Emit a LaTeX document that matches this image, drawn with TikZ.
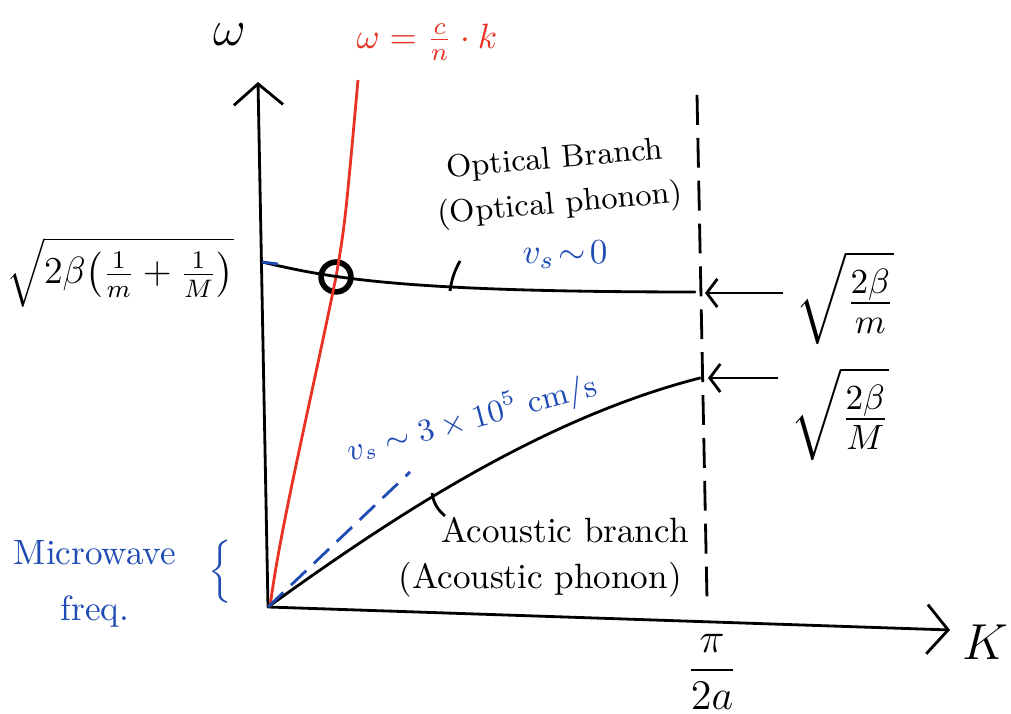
\documentclass[tikz,border=0pt]{standalone}
\usepackage{amsmath}
\definecolor{penred}{RGB}{232,50,35}
\definecolor{penblue}{RGB}{30,75,180}
\usetikzlibrary{arrows.meta}
\tikzset{
    axis/.style={->, thick, >={Straight Barb[length=6pt,width=14pt]}},
    branch/.style={thick, line cap=round},
    pointer/.style={<-, thick, >={Straight Barb[length=3pt,width=8pt]}},
}
\begin{document}
\begin{tikzpicture}
    \useasboundingbox (0, 0) rectangle (10.11, 7.14);

    \coordinate (O) at (2.68, 1.07);
    \coordinate (ytop) at (2.58, 6.32);
    \coordinate (xend) at (9.50, 0.84);
    \node (w) at (2.30, 6.79) {\Large $\omega$};
    \node (K) at (9.85, 0.72) {\Large $K$};

    \draw[axis] (O) -- (ytop);
    \draw[axis] (O) -- (xend);

    % light line
    \node[draw, circle, ultra thick, inner sep=3pt] (cross) at (3.36, 4.37) {};
    \coordinate (rtop) at (3.58, 6.34);
    \draw[penred, thick] (2.70, 1.07) .. controls (2.80, 1.85) and (3.08, 3.00) .. (cross.center)
        .. controls (3.45, 4.90) .. (rtop);
    \node[penred] (light) at (4.27, 6.72) {$\omega = \frac{c}{n}\cdot k$};

    % zone boundary
    \coordinate (zt) at (6.97, 6.19);
    \coordinate (zb) at (7.07, 1.14);
    \draw[thick, dash pattern=on 8.5pt off 3.7pt] (zt) -- (zb);
    \node (zone) at (7.12, 0.42) {\large $\dfrac{\pi}{2a}$};

    % optical branch
    \coordinate (o0) at (2.62, 4.52);
    \coordinate (o1) at (6.95, 4.22);
    \draw[branch] (o0) .. controls (3.30, 4.36) and (4.00, 4.22) .. (o1);
    \draw[penblue, thick] (o0) -- ++(0.16, -0.02);
    \node[rotate=5] (opt1) at (5.55, 5.54) {\small Optical Branch};
    \node[rotate=5] (opt2) at (5.60, 5.09) {\small (Optical phonon)};
    \node[penblue] (vs0) at (5.65, 4.59) {$v_s\!\sim\!0$};
    \coordinate (op) at (4.50, 4.23);
    \draw[thick] (op) to[bend left=10] ++(0.10, 0.30);

    % acoustic branch
    \coordinate (a1) at (7.00, 3.36);
    \draw[branch] (O) .. controls (3.90, 1.95) and (5.40, 2.95) .. (a1);
    \coordinate (vsend) at (4.10, 2.42);
    \draw[penblue, thick, dash pattern=on 6pt off 3pt] (O) -- (vsend);
    \node[penblue, rotate=15] (vs) at (4.72, 2.95) {\small $v_s\sim 3\times 10^5$ cm/s};
    \node (ac1) at (5.65, 1.84) {Acoustic branch};
    \node (ac2) at (5.40, 1.34) {(Acoustic phonon)};
    \coordinate (ap) at (4.32, 2.21);
    \draw[thick] (ap) to[bend right=20] ++(0.13, -0.23);

    % left labels
    \node[scale=0.9] (wmax) at (1.20, 4.42) {\large $\sqrt{2\beta\bigl(\frac{1}{m}+\frac{1}{M}\bigr)}$};
    \node[penblue, align=center] (micro) at (0.95, 1.30) {Microwave\\[4pt] freq.};
    \node[penblue] (brace) at (2.22, 1.42) {$\left\{\rule{0pt}{0.38cm}\right.$};

    % right labels
    \node (wopt) at (8.45, 4.16) {\Large $\sqrt{\frac{2\beta}{m}}$};
    \node (wac) at (8.40, 3.00) {\Large $\sqrt{\frac{2\beta}{M}}$};
    \coordinate (po) at (7.05, 4.21);
    \coordinate (pa) at (7.08, 3.36);
    \draw[pointer] (po) -- (wopt.west |- po);
    \draw[pointer] (pa) -- (wac.west |- pa);
\end{tikzpicture}
\end{document}
